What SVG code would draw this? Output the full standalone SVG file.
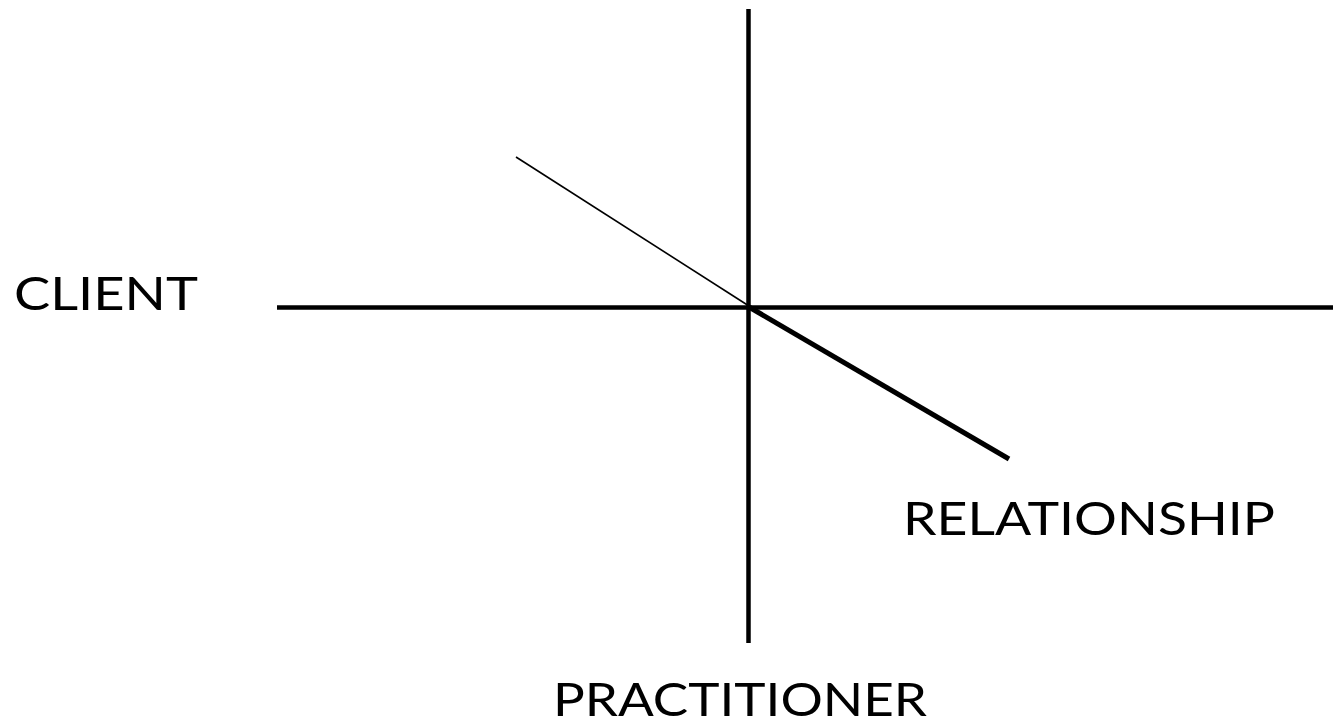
<svg xmlns="http://www.w3.org/2000/svg" width="1333" height="722" viewBox="0 0 1333 722">
<style>
.lbl{font-family:Lato,"Liberation Sans",sans-serif;font-size:47px;font-weight:400;fill:#000}
.ax{stroke:#000;stroke-width:4.5;fill:none}
</style>
<rect width="1333" height="722" fill="#fff"/>
<g id="connectors">
<line class="ax" x1="748.5" y1="9" x2="748.5" y2="643"/>
<line class="ax" x1="277" y1="307.5" x2="1333" y2="307.5"/>
<line x1="516" y1="157" x2="749" y2="306" stroke="#000" stroke-width="1.6"/>
<line x1="749" y1="307" x2="1009" y2="459" stroke="#000" stroke-width="5"/>
</g>
<g id="client"><text class="lbl" x="14" y="310" textLength="184" lengthAdjust="spacingAndGlyphs">CLIENT</text></g>
<g id="relationship"><text class="lbl" x="903" y="535" textLength="372" lengthAdjust="spacingAndGlyphs">RELATIONSHIP</text></g>
<g id="practitioner"><text class="lbl" x="553" y="716" textLength="374" lengthAdjust="spacingAndGlyphs">PRACTITIONER</text></g>
</svg>
